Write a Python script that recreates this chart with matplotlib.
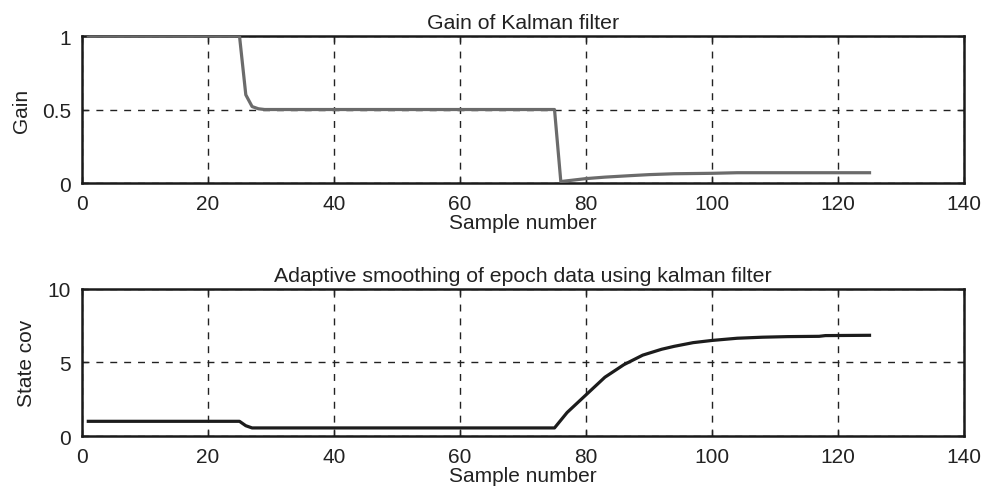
import matplotlib
matplotlib.use('Agg')
import matplotlib.pyplot as plt

# Gain of Kalman filter (vertices of the polyline)
gain_x = [1, 25, 26, 27, 28, 29, 75, 76, 78, 80, 83, 87, 90, 94, 100, 104, 110, 118, 125]
gain_y = [1, 1, 0.6, 0.52, 0.505, 0.5, 0.5, 0.01, 0.02, 0.03, 0.04, 0.05, 0.057, 0.063,
          0.066, 0.07, 0.07, 0.07, 0.07]

# State covariance
cov_x = [1, 25, 26, 27, 75, 77, 80, 83, 86, 89, 92, 94, 97, 100, 104, 108, 112, 117, 118, 125]
cov_y = [1, 1, 0.7, 0.55, 0.55, 1.6, 2.8, 4.0, 4.85, 5.5, 5.9, 6.1, 6.35, 6.5,
         6.65, 6.72, 6.76, 6.78, 6.83, 6.85]

x_ticks = [0, 20, 40, 60, 80, 100, 120, 140]

plt.rcParams['font.family'] = ['Liberation Sans', 'DejaVu Sans']
plt.rcParams['font.size'] = 15

fig = plt.figure(figsize=(9.82, 4.89), dpi=100)
ax1 = fig.add_axes([0.0835, 0.6237, 0.8982, 0.3006])
ax2 = fig.add_axes([0.0835, 0.1063, 0.8982, 0.3007])

panels = [
    (ax1, gain_x, gain_y, '#6b6b6b', 'Gain of Kalman filter', 'Gain', [0, 0.5, 1], ['0', '0.5', '1'], (0, 1)),
    (ax2, cov_x, cov_y, '#1c1c1c', 'Adaptive smoothing of epoch data using kalman filter', 'State cov',
     [0, 5, 10], ['0', '5', '10'], (0, 10)),
]

for ax, xs, ys, col, title, ylab, yt, ytl, ylim in panels:
    ax.plot(xs, ys, color=col, lw=2.3, zorder=3)
    ax.set_xlim(0, 140)
    ax.set_ylim(*ylim)
    ax.set_xticks(x_ticks)
    ax.set_yticks(yt)
    ax.set_yticklabels(ytl)
    ax.grid(True, color='#222222', linestyle=(0, (5, 5)), linewidth=1.0)
    ax.tick_params(direction='in', length=4, width=1, top=True, right=True,
                   labelsize=15, colors='#222222')
    ax.tick_params(axis='x', pad=8)
    ax.tick_params(axis='y', pad=8)
    for s in ax.spines.values():
        s.set_linewidth(1.8)
        s.set_color('#1a1a1a')
    ax.set_title(title, fontsize=15.3, pad=6, color='#222222')
    ax.set_xlabel('Sample number', fontsize=15, labelpad=0, color='#222222')
    ax.set_ylabel(ylab, fontsize=15, labelpad=8, color='#222222')

fig.savefig('out.png', dpi=100)
